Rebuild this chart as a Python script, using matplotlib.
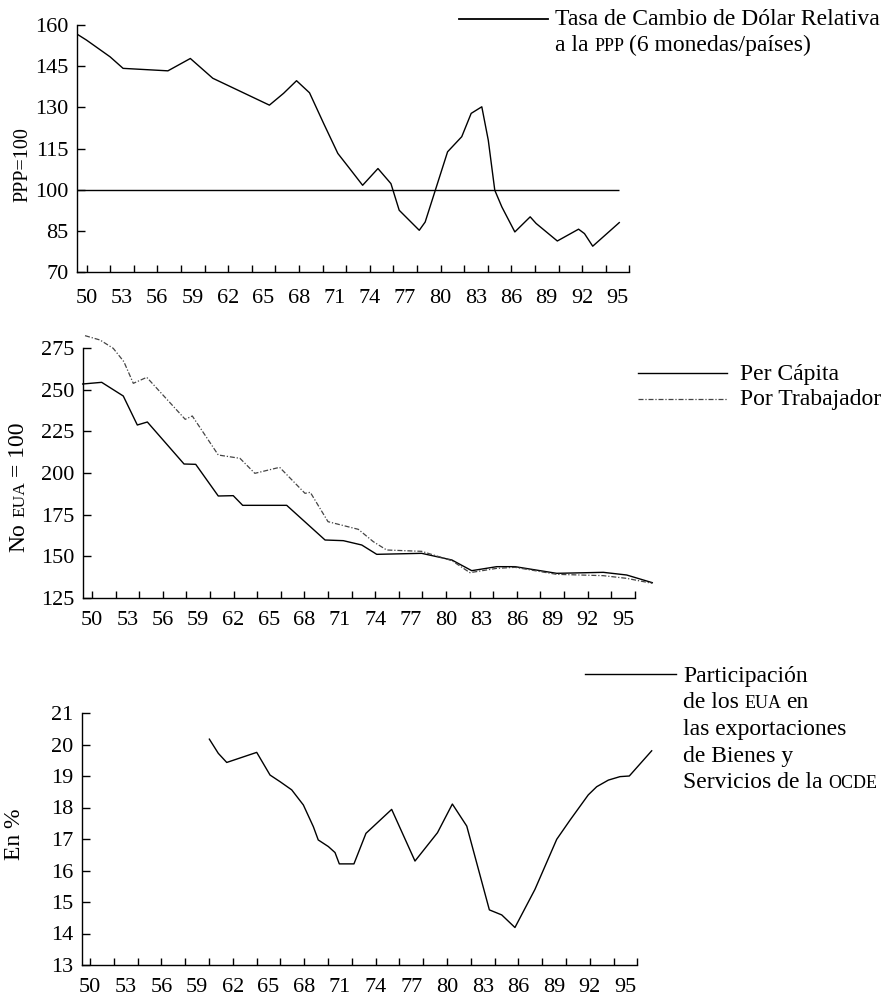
import matplotlib
matplotlib.use('Agg')
import matplotlib.pyplot as plt
from matplotlib.lines import Line2D
import numpy as np

plt.rcParams['font.family'] = ['Liberation Serif', 'DejaVu Serif']

W, H, DPI = 886, 996, 100

# ---------------- data ----------------
# Panel 1: Tasa de cambio del dólar relativa a la PPP
ppp_years = [49.3, 50.0, 52.0, 53.1, 56.9, 58.8, 60.7, 65.5, 66.7, 67.8,
             68.9, 70.1, 71.3, 72.3, 73.4, 74.7, 75.8, 76.5, 78.2, 78.7,
             80.6, 81.8, 82.6, 83.5, 84.05, 84.6, 85.2, 86.3, 87.6, 88.1,
             89.9, 91.7, 92.2, 92.9, 95.15]
ppp_values = [156.4, 154.5, 148.4, 144.2, 143.3, 147.8, 140.6, 130.8, 135.1, 139.7,
              135.3, 124.1, 113.2, 107.7, 101.6, 107.7, 102.2, 92.5, 85.2, 88.2,
              113.8, 119.3, 127.8, 130.2, 118.0, 99.8, 93.7, 84.6, 90.1, 87.7,
              81.3, 85.6, 84.0, 79.4, 88.0]
ppp_parity = 100
ppp_yticks = [70, 85, 100, 115, 130, 145, 160]

# Panel 2: Per cápita / Por trabajador (EUA = 100)
pc_years = [49.21, 50.82, 52.65, 53.84, 54.69, 57.8, 58.79, 60.7, 61.97, 62.77,
            66.5, 69.75, 71.3, 72.86, 74.13, 77.94, 80.5, 82.18, 84.3, 85.85,
            89.38, 93.33, 95.31, 97.48]
pc_values = [253.4, 254.4, 246.2, 228.8, 230.6, 205.4, 205.2, 186.2, 186.4, 180.6,
             180.6, 159.8, 159.4, 156.8, 151.2, 151.8, 147.8, 141.4, 143.8, 143.8,
             139.8, 140.4, 138.8, 134.2]
pt_years = [49.41, 50.68, 51.8, 52.7, 53.5, 54.64, 57.9, 58.5, 60.7, 62.54,
            63.8, 65.9, 68.05, 68.5, 70.0, 72.57, 73.84, 74.97, 77.94, 80.5,
            82.03, 84.3, 85.85, 89.38, 93.33, 95.3, 97.48]
pt_values = [282.4, 279.8, 274.8, 266.8, 253.8, 257.4, 232.2, 234.2, 210.8, 208.8,
             199.8, 203.4, 187.8, 188.4, 170.8, 166.2, 158.8, 153.8, 153.0, 147.4,
             140.2, 142.8, 143.4, 139.2, 138.4, 136.8, 133.8]
prod_yticks = [125, 150, 175, 200, 225, 250, 275]

# Panel 3: Participación de los EUA en las exportaciones OCDE (%)
exp_years = [60.03, 60.78, 61.49, 64.01, 65.13, 65.97, 66.95, 67.93, 68.77, 69.18,
             70.03, 70.59, 70.95, 72.18, 73.19, 75.35, 77.31, 79.2, 80.45, 81.66,
             83.56, 84.6, 85.71, 87.39, 89.22, 90.34, 91.87, 92.58, 93.56, 94.54,
             95.32, 97.2]
exp_values = [20.17, 19.72, 19.43, 19.75, 19.03, 18.82, 18.56, 18.08, 17.39, 16.97,
              16.76, 16.57, 16.21, 16.21, 17.18, 17.94, 16.30, 17.2, 18.11, 17.41,
              14.75, 14.59, 14.19, 15.40, 16.99, 17.6, 18.40, 18.66, 18.87, 18.98,
              19.0, 19.80]
exp_yticks = [13, 14, 15, 16, 17, 18, 19, 20, 21]

x_label_years = list(range(50, 96, 3))
x_tick_years = list(range(50, 97, 2))

# ---------------- figure ----------------
fig = plt.figure(figsize=(W / DPI, H / DPI), dpi=DPI)
FS = 16      # tick labels
LFS = 17     # legend / annotation text
LW = 1.0


def fx(x):
    return x / W


def fy(y):
    return 1 - y / H


def make_axes(left, right, top, bottom, xlim, ylim, yticks, xpad):
    ax = fig.add_axes([fx(left), fy(bottom), (right - left) / W, (bottom - top) / H])
    ax.set_xlim(*xlim)
    ax.set_ylim(*ylim)
    for s in ('top', 'right'):
        ax.spines[s].set_visible(False)
    for s in ('left', 'bottom'):
        ax.spines[s].set_linewidth(LW)
    ax.xaxis.remove_overlapping_locs = False
    ax.set_xticks(x_label_years)
    ax.set_xticklabels([str(v) for v in x_label_years])
    ax.set_xticks(x_tick_years, minor=True)
    ax.tick_params(axis='x', which='major', length=0, pad=xpad, labelsize=FS)
    ax.tick_params(axis='x', which='minor', direction='in', length=5, width=LW)
    ax.set_yticks(yticks)
    ax.set_yticklabels([str(v) for v in yticks])
    ax.tick_params(axis='y', which='major', direction='in', length=6, width=LW,
                   pad=6, labelsize=FS)
    return ax


# Panel 1
ax1 = make_axes(77, 86.5 + 46 * 11.8, 25, 272,
                (50 - (86.5 - 77) / 11.8, 96), (70, 160), ppp_yticks, 12)
ax1.plot(ppp_years, ppp_values, color='black', lw=LW, clip_on=False)
ax1.hlines(ppp_parity, ax1.get_xlim()[0], ppp_years[-1], color='black', lw=LW)

# Panel 2
ax2 = make_axes(83, 92 + 46 * 11.8, 348, 598,
                (50 - (92 - 83) / 11.8, 96), (125, 275), prod_yticks, 9)
ax2.plot(pc_years, pc_values, color='black', lw=LW, clip_on=False)
ax2.plot(pt_years, pt_values, color='#444444', lw=0.9, clip_on=False,
         linestyle=(0, (4, 1.5, 1, 1.5)))

# Panel 3
ax3 = make_axes(82, 90 + 46 * 11.9, 713, 965,
                (50 - (90 - 82) / 11.9, 96), (13, 21), exp_yticks, 9)
ax3.plot(exp_years, exp_values, color='black', lw=LW, clip_on=False)

# ---------------- text helpers ----------------
renderer = fig.canvas.get_renderer()


def place(x_px, y_px, pieces, rot=0):
    """pieces: list of (text, fontsize, gap_in_em_after). Baseline-aligned."""
    cur = 0.0
    for txt, size, gap in pieces:
        if rot == 0:
            t = fig.text(fx(x_px + cur), fy(y_px), txt, fontsize=size,
                         ha='left', va='baseline')
            bb = t.get_window_extent(renderer)
            cur += bb.width + gap * size * DPI / 72
        else:
            t = fig.text(fx(x_px), fy(y_px - cur), txt, fontsize=size,
                         ha='left', va='baseline', rotation=90,
                         rotation_mode='anchor')
            bb = t.get_window_extent(renderer)
            cur += bb.height + gap * size * DPI / 72


SC = 13  # small-caps size

# y labels
place(27, 202, [("PPP=100", 14.5, 0)], rot=90)
place(24, 552, [("No", LFS, 0.25), ("EUA", 12.5, 0.25), ("= 100", LFS, 0)], rot=90)
place(20, 860, [("En %", LFS, 0)], rot=90)

# legends
def legend_line(x0, x1, y, **kw):
    fig.add_artist(Line2D([fx(x0), fx(x1)], [fy(y), fy(y)],
                          transform=fig.transFigure, **kw))


legend_line(459, 548, 19, color='black', lw=LW * 1.3)
place(555, 25, [("Tasa de Cambio de Dólar Relativa", LFS, 0)])
place(555, 51, [("a la", LFS, 0.25), ("PPP", SC, 0.25), ("(6 monedas/países)", LFS, 0)])

legend_line(638, 727, 373, color='black', lw=LW)
legend_line(638, 727, 399, color='#444444', lw=0.9, linestyle=(0, (4, 1.5, 1, 1.5)))
place(740, 380, [("Per Cápita", LFS, 0)])
place(740, 405, [("Por Trabajador", LFS, 0)])

legend_line(585, 676, 674, color='black', lw=LW)
place(683, 682, [("Participación", LFS, 0)])
place(683, 708, [("de los", LFS, 0.25), ("EUA", SC, 0.25), ("en", LFS, 0)])
place(683, 735, [("las exportaciones", LFS, 0)])
place(683, 762, [("de Bienes y", LFS, 0)])
place(683, 788, [("Servicios de la", LFS, 0.25), ("OCDE", SC, 0)])

fig.savefig('out.png', dpi=DPI)
